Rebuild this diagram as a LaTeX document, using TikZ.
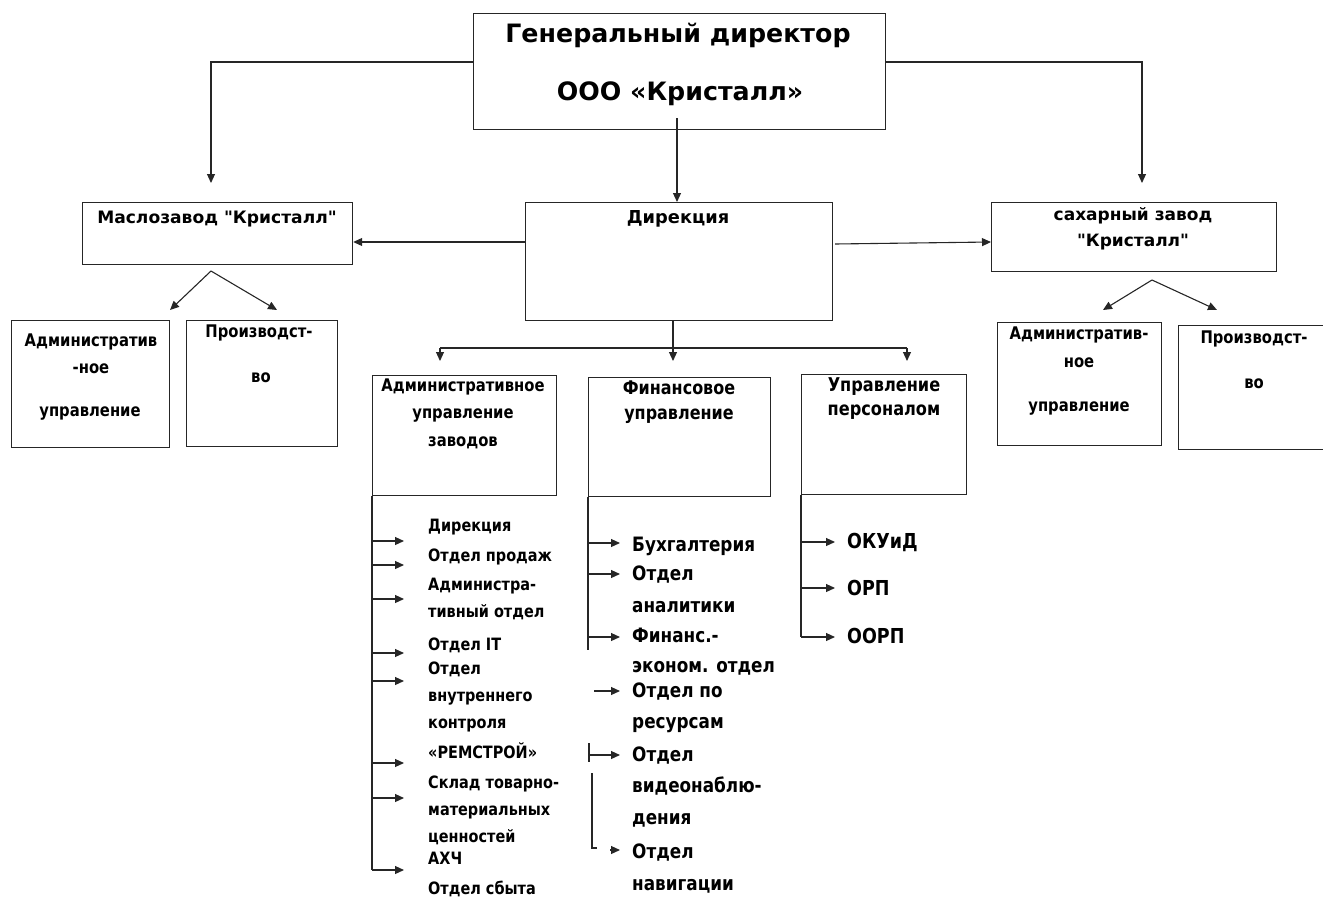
\documentclass[tikz,border=0pt]{standalone}
\usepackage{fontspec}
\setmainfont{DejaVu Sans}
\newfontfamily\nf{DejaVu Sans}[FakeStretch=0.85]
\usetikzlibrary{arrows.meta,calc}
\tikzset{
  box/.style={draw=black!85, line width=1.2pt, anchor=north west, inner sep=0pt},
  tx/.style={anchor=base, inner sep=0pt, font=\bfseries\fontsize{#1}{#1}\selectfont},
  nx/.style={anchor=base, inner sep=0pt, font=\nf\bfseries\fontsize{#1}{#1}\selectfont},
  lt/.style={anchor=base west, inner sep=0pt, font=\nf\bfseries\fontsize{#1}{#1}\selectfont},
  ln/.style={line width=1.1pt, draw=black!85},
  arr/.style={ln, -{Triangle[length=9pt,width=8pt]}},
}
\begin{document}
\begin{tikzpicture}[x=1pt,y=-1pt]
\useasboundingbox (0,0) rectangle (1323,897);
% boxes
\node[box, minimum width=412pt, minimum height=116pt] (gd) at (473,13) {};
\node[box, minimum width=270pt, minimum height=62pt] (mz) at (82,202) {};
\node[box, minimum width=307pt, minimum height=118pt] (dir) at (525,202) {};
\node[box, minimum width=285pt, minimum height=69pt] (sz) at (991,202) {};
\node[box, minimum width=158pt, minimum height=127pt] (mza) at (11,320) {};
\node[box, minimum width=151pt, minimum height=126pt] (mzp) at (186,320) {};
\node[box, minimum width=164pt, minimum height=123pt] (sza) at (997,322) {};
\node[box, minimum width=147pt, minimum height=124pt] (szp) at (1178,325) {};
\node[box, minimum width=184pt, minimum height=120pt] (au) at (372,375) {};
\node[box, minimum width=182pt, minimum height=119pt] (fu) at (588,377) {};
\node[box, minimum width=165pt, minimum height=120pt] (up) at (801,374) {};
% box texts
\node[tx=25.3] (gd1) at (678,42) {Генеральный директор};
\node[tx=25.3] (gd2) at (680,100) {ООО «Кристалл»};
\node[tx=17.1] (mz1) at (217,223) {Маслозавод \textquotedbl Кристалл\textquotedbl};
\node[tx=17.8] (dir1) at (678,223) {Дирекция};
\node[tx=17] (sz1) at (1133,220) {сахарный завод};
\node[tx=17] (sz2) at (1133,246) {\textquotedbl Кристалл\textquotedbl};
\node[nx=17.4] (mza1) at (91,346) {Административ};
\node[nx=17.4] (mza2) at (91,373) {-ное};
\node[nx=17.4] (mza3) at (90,416) {управление};
\node[nx=17.4] (mzp1) at (259,337) {Производст-};
\node[nx=17.4] (mzp2) at (261,382) {во};
\node[nx=17.4] (sza1) at (1079,339) {Административ-};
\node[nx=17.4] (sza2) at (1079,367) {ное};
\node[nx=17.4] (sza3) at (1079,411) {управление};
\node[nx=17.4] (szp1) at (1254,343) {Производст-};
\node[nx=17.4] (szp2) at (1254,388) {во};
\node[nx=17.4] (au1) at (463,391) {Административное};
\node[nx=17.4] (au2) at (463,418) {управление};
\node[nx=17.4] (au3) at (463,446) {заводов};
\node[nx=18.8] (fu1) at (679,394) {Финансовое};
\node[nx=18.8] (fu2) at (679,419) {управление};
\node[nx=19] (up1) at (884,391) {Управление};
\node[nx=19] (up2) at (884,415) {персоналом};
% admin list
\node[lt=17] (a1) at (428,531) {Дирекция};
\node[lt=17] (a2) at (428,561) {Отдел продаж};
\node[lt=17] (a3) at (428,590) {Администра-};
\node[lt=17] (a4) at (428,617) {тивный отдел};
\node[lt=17] (a5) at (428,650) {Отдел IT};
\node[lt=17] (a6) at (428,674) {Отдел};
\node[lt=17] (a7) at (428,701) {внутреннего};
\node[lt=17] (a8) at (428,728) {контроля};
\node[lt=17] (a9) at (428,758) {«РЕМСТРОЙ»};
\node[lt=17] (a10) at (428,788) {Склад товарно-};
\node[lt=17] (a11) at (428,815) {материальных};
\node[lt=17] (a12) at (428,842) {ценностей};
\node[lt=17] (a13) at (428,864) {АХЧ};
\node[lt=17] (a14) at (428,894) {Отдел сбыта};
% fin list
\node[lt=19.8] (f1) at (632,551) {Бухгалтерия};
\node[lt=19.8] (f2) at (632,580) {Отдел};
\node[lt=19.8] (f3) at (632,612) {аналитики};
\node[lt=19.8] (f4) at (632,642) {Финанс.-};
\node[lt=19.8] (f5) at (632,672) {эконом. отдел};
\node[lt=19.8] (f6) at (632,697) {Отдел по};
\node[lt=19.8] (f7) at (632,728) {ресурсам};
\node[lt=19.8] (f8) at (632,761) {Отдел};
\node[lt=19.8] (f9) at (632,792) {видеонаблю-};
\node[lt=19.8] (f10) at (632,824) {дения};
\node[lt=19.8] (f11) at (632,858) {Отдел};
\node[lt=19.8] (f12) at (632,890) {навигации};
% personnel list
\node[lt=20.6] (p1) at (847,548) {ОКУиД};
\node[lt=20.6] (p2) at (847,595) {ОРП};
\node[lt=20.6] (p3) at (847,643) {ООРП};
% coordinates for connector ends
\coordinate (gdL) at (473,62);
\coordinate (gdR) at (885,62);
\coordinate (gdB) at (677,118);
\coordinate (mzApex) at (211,271);
\coordinate (mzaT) at (170,310);
\coordinate (mzpT) at (277,310);
\coordinate (szApex) at (1152,280);
\coordinate (szaT) at (1103,310);
\coordinate (szpT) at (1217,310);
\coordinate (dirB) at (673,320);
\coordinate (bar) at (673,348);
\coordinate (auT) at (440,361);
\coordinate (fuT) at (673,361);
\coordinate (upT) at (907,361);
% top level
\draw[arr] (gdL) -| ([yshift=19pt]mz.north -| mzApex);
\draw[arr] (gdR) -| ([yshift=19pt]sz.north -| 1142,0);
\draw[arr] (gdB) -- (dir.north -| gdB);
\draw[arr] (dir.west |- 0,242) -- (mz.east |- 0,242);
\draw[arr] (835,244) -- (sz.west |- 0,242);
% factories
\draw[arr] (mzApex) -- (mzaT);
\draw[arr] (mzApex) -- (mzpT);
\draw[arr] (szApex) -- (szaT);
\draw[arr] (szApex) -- (szpT);
% direction bottom
\draw[ln] (dirB) -- (bar);
\draw[ln] (bar -| auT) -- (bar -| upT);
\draw[arr] (bar -| auT) -- (auT);
\draw[arr] (bar -| fuT) -- (fuT);
\draw[arr] (bar -| upT) -- (upT);
% admin list connectors
\draw[ln] (au.south west) -- (au.south west |- 0,870);
\foreach \y in {541,565,599,653,681,763,798,870}
  \draw[arr] (372,\y) -- (404,\y);
% fin list connectors
\draw[ln] (fu.south west) -- (fu.south west |- 0,650);
\foreach \y in {543,574,637}
  \draw[arr] (588,\y) -- (620,\y);
\draw[arr] (594,691) -- (620,691);
\draw[ln] (589,743) -- (589,762);
\draw[arr] (589,755) -- (620,755);
\draw[ln] (592,773) -- (592,848) -- (597,848);
\draw[arr] (610,850) -- (620,850);
% personnel connectors
\draw[ln] (up.south west) -- (up.south west |- 0,637);
\foreach \y in {542,588,637}
  \draw[arr] (801,\y) -- (835,\y);
\end{tikzpicture}
\end{document}
